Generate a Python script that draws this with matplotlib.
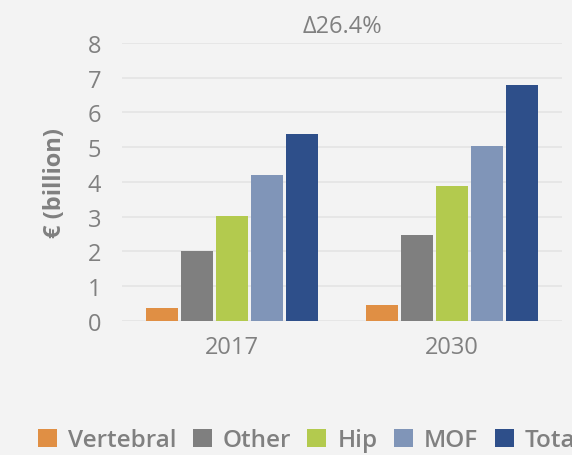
import matplotlib.pyplot as plt
import numpy as np

plt.rcParams['font.family'] = ['Open Sans', 'DejaVu Sans']

years = ['2017', '2030']
series = ['Vertebral', 'Other', 'Hip', 'MOF', 'Total']
vertebral = [0.37, 0.46]
other = [2.01, 2.47]
hip = [3.01, 3.89]
mof = [4.20, 5.03]
total = [5.37, 6.78]
colors = ['#E08F44', '#7F7F7F', '#B3CA4E', '#8095B8', '#2E4F8A']

values = [vertebral, other, hip, mof, total]
bg = '#F3F3F3'
txt = '#808080'

fig = plt.figure(figsize=(5.72, 4.56), dpi=100, facecolor=bg)
ax = fig.add_axes([0.2133, 0.2945, 0.7692, 0.609], facecolor=bg)

x = np.arange(len(years))
step = 0.159
for i, (name, vals) in enumerate(zip(series, values)):
    ax.bar(x + (i - 2) * step, vals, width=0.145, color=colors[i], label=name, zorder=3)

ax.set_xlim(-0.5, 1.5)
ax.set_ylim(0, 8)
ax.set_yticks(range(0, 9))
ax.set_xticks(x)
ax.set_xticklabels(years)
ax.grid(axis='y', color='#E4E4E4', linewidth=1.2, zorder=0)
for s in ax.spines.values():
    s.set_visible(False)
ax.tick_params(length=0, labelsize=17, colors=txt)
ax.tick_params(axis='y', pad=15)
ax.tick_params(axis='x', pad=10)
ax.set_ylabel('€ (billion)', fontsize=17, fontweight='bold', color=txt, labelpad=15)
ax.set_title('Δ26.4%', fontsize=17, color=txt, pad=8)

fig.legend(loc='center left', bbox_to_anchor=(0.049, 0.032), ncol=5, frameon=False,
           prop={'size': 17.5, 'weight': 'semibold'}, labelcolor=txt,
           handlelength=0.78, handleheight=0.74,
           handletextpad=0.45, columnspacing=0.68, borderaxespad=0)

fig.savefig('out.png', dpi=100, facecolor=bg)
